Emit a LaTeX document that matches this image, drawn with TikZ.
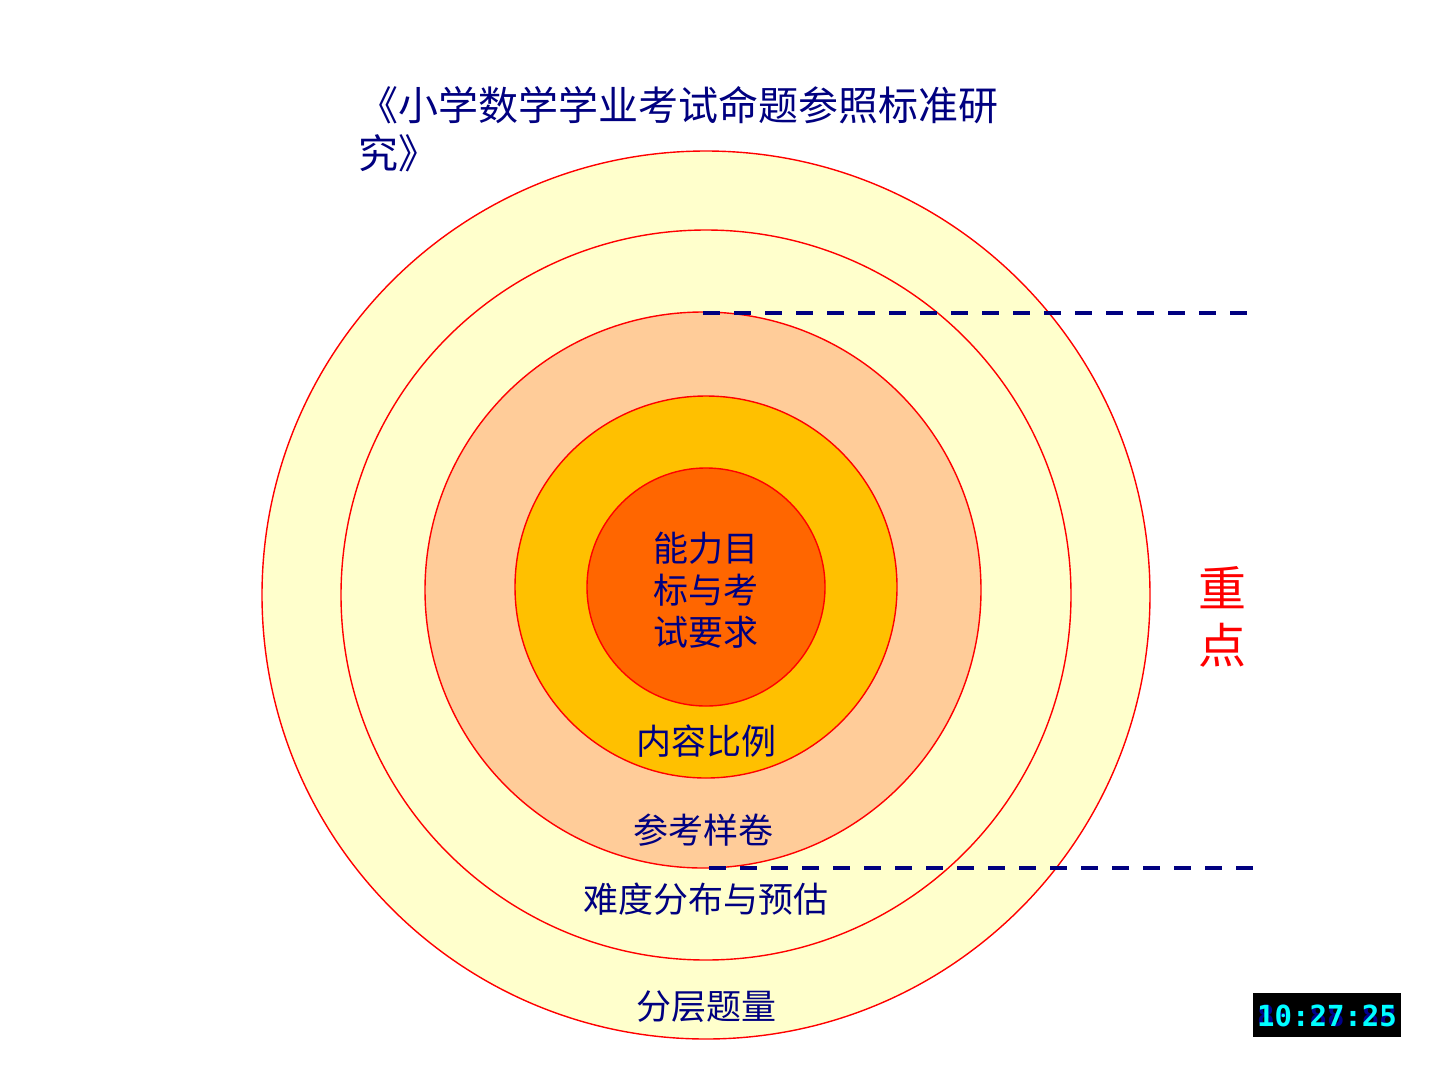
\documentclass[tikz,border=0pt]{standalone}
\usepackage{fontspec}
\newfontfamily\cjk{Noto Sans CJK SC}
\newfontfamily\clockfont{DejaVu Sans Mono}
\definecolor{navytxt}{RGB}{0,0,128}
\definecolor{ring1}{RGB}{255,255,204}
\definecolor{ring3}{RGB}{255,204,153}
\definecolor{ring4}{RGB}{255,192,0}
\definecolor{ring5}{RGB}{255,102,0}
\definecolor{clockcyan}{RGB}{0,255,255}
\definecolor{clockghost}{RGB}{0,0,140}
\begin{document}
\begin{tikzpicture}[x=1pt,y=-1pt,
  ring/.style={draw=red, line width=1.4pt},
  lbl/.style={text=navytxt, font=\cjk\fontsize{35}{42}\selectfont, inner sep=0pt, align=center},
  dashline/.style={draw=navytxt, line width=4pt, dash pattern=on 17pt off 14pt}]
\useasboundingbox (0,0) rectangle (1440,1080);
\fill[white] (0,0) rectangle (1440,1080);
% rings
\path[ring, fill=ring1] (706,595) circle (444);
\path[ring, fill=ring1] (706,595) circle (365);
\path[ring, fill=ring3] (703,590) circle (278);
\path[ring, fill=ring4] (706,587) circle (191);
\path[ring, fill=ring5] (706,587) circle (119);
% title
\node[anchor=west, text=navytxt, font=\cjk\fontsize{40}{48}\selectfont, inner sep=0pt] (t1) at (358,105) {《小学数学学业考试命题参照标准研};
\node[anchor=west, text=navytxt, font=\cjk\fontsize{40}{48}\selectfont, inner sep=0pt] (t2) at (358,153) {究》};
% labels
\node[lbl] (core) at (706,590) {能力目\\标与考\\试要求};
\node[lbl] (l2) at (706,741) {内容比例};
\node[lbl] (l3) at (703,830) {参考样卷};
\node[lbl] (l4) at (706,899) {难度分布与预估};
\node[lbl] (l5) at (706,1007) {分层题量};
\node[text=red, font=\cjk\fontsize{48}{57}\selectfont, inner sep=0pt, align=center] (key) at (1222,617) {重\\点};
% dashed lines
\coordinate (a1) at (703,313); \coordinate (a2) at (1258,313);
\coordinate (b1) at (709,868); \coordinate (b2) at (1262,868);
\draw[dashline] (a1) -- (a2);
\draw[dashline] (b1) -- (b2);
% clock
\fill[black] (1253,993) rectangle (1401,1037);
\node[text=clockghost, font=\clockfont\bfseries\fontsize{29}{29}\selectfont, inner sep=0pt] (clkg) at (1327,1016) {88:88:88};
\node[text=clockcyan, font=\clockfont\bfseries\fontsize{29}{29}\selectfont, inner sep=0pt] (clk) at (1327,1016) {10:27:25};
\end{tikzpicture}
\end{document}
